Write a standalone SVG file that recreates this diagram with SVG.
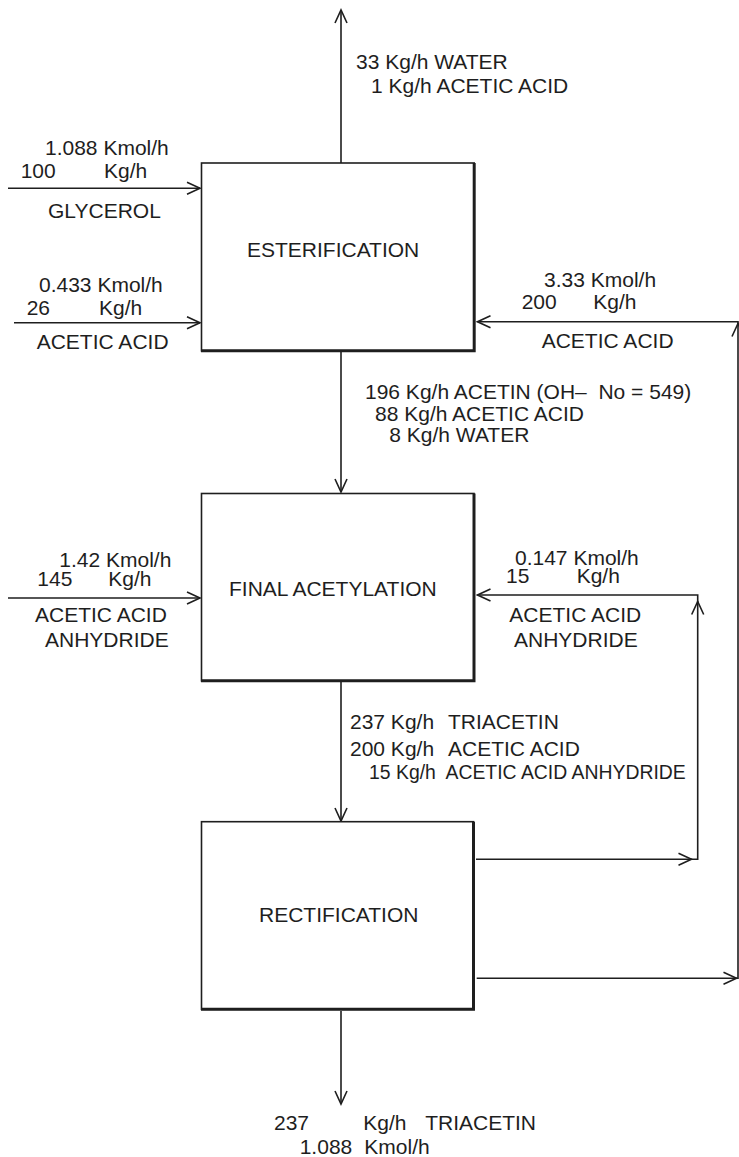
<svg xmlns="http://www.w3.org/2000/svg" width="739" height="1157" viewBox="0 0 739 1157">
<style>
text{font-family:"Liberation Sans",Arial,sans-serif;font-size:21px;fill:#1e1e1e}
.box{fill:#fff;stroke:#1e1e1e;stroke-width:1.6}
.shadow{fill:none;stroke:#1e1e1e;stroke-width:3}
.ln{fill:none;stroke:#1e1e1e;stroke-width:1.6}
.arr{marker-end:url(#ah)}
.sm{font-size:19.4px}
</style>
<defs>
<marker id="ah" viewBox="-14 -8 16 16" markerWidth="16" markerHeight="16" refX="0" refY="0" orient="auto" markerUnits="userSpaceOnUse">
<path d="M-13,-6 L0,0 L-13,6" fill="none" stroke="#1e1e1e" stroke-width="1.6"/>
</marker>
</defs>
<rect width="739" height="1157" fill="#fff"/>
<g id="connectors">
<path class="ln arr" d="M341,163 V10"/>
<path class="ln arr" d="M8,188.3 H200"/>
<path class="ln arr" d="M14,322.7 H200"/>
<path class="ln arr" d="M341,352 V492"/>
<path class="ln arr" d="M8,598 H200"/>
<path class="ln arr" d="M341,682 V821"/>
<path class="ln arr" d="M341,1011 V1104"/>
<path class="ln arr" d="M476,859.3 H691.5"/>
<path class="ln arr" d="M691,859.3 H697.7 V601.5"/>
<path class="ln arr" d="M697.7,602 V595 H477.5"/>
<path class="ln arr" d="M476.7,978.3 H736.5"/>
<path class="ln arr" d="M736,978.3 H738 V323.5"/>
<path class="ln arr" d="M738,324 V321.7 H477.5"/>
</g>
<g id="esterification">
<rect class="box" x="201.5" y="163" width="272.7" height="187.8"/>
<path class="shadow" d="M474.2,163 V350.8 H201"/>
<text x="247" y="257.3">ESTERIFICATION</text>
</g>
<g id="final-acetylation">
<rect class="box" x="201.5" y="493.5" width="272.5" height="187.3"/>
<path class="shadow" d="M474,493.5 V680.8 H201"/>
<text x="229" y="595.7">FINAL ACETYLATION</text>
</g>
<g id="rectification">
<rect class="box" x="201.5" y="821.7" width="272" height="187.6"/>
<path class="shadow" d="M473.5,821.7 V1009.3 H201"/>
<text x="259" y="922.3">RECTIFICATION</text>
</g>
<g id="labels">
<text x="356" y="69.3">33 Kg/h WATER</text>
<text x="371" y="93">1 Kg/h ACETIC ACID</text>
<text x="45" y="155">1.088 Kmol/h</text>
<text x="20.7" y="178.3">100</text>
<text x="104" y="178.3">Kg/h</text>
<text x="48" y="218">GLYCEROL</text>
<text x="39" y="291.7">0.433 Kmol/h</text>
<text x="26.7" y="315">26</text>
<text x="99" y="315">Kg/h</text>
<text x="36.7" y="349.3">ACETIC ACID</text>
<text x="544" y="286.7">3.33 Kmol/h</text>
<text x="521.7" y="309.3">200</text>
<text x="593.3" y="309.3">Kg/h</text>
<text x="541.7" y="347.7">ACETIC ACID</text>
<text x="365" y="399.3">196 Kg/h ACETIN (OH–&#160; No = 549)</text>
<text x="375" y="421">88 Kg/h ACETIC ACID</text>
<text x="389.3" y="441.7">8 Kg/h WATER</text>
<text x="59.3" y="566.7">1.42 Kmol/h</text>
<text x="37.3" y="586">145</text>
<text x="108.3" y="586">Kg/h</text>
<text x="35" y="621.7">ACETIC ACID</text>
<text x="45" y="647.3">ANHYDRIDE</text>
<text x="515" y="565">0.147 Kmol/h</text>
<text x="506" y="583.3">15</text>
<text x="576.7" y="583.3">Kg/h</text>
<text x="509.3" y="621.7">ACETIC ACID</text>
<text x="514" y="647.3">ANHYDRIDE</text>
<text x="350" y="729">237 Kg/h</text>
<text x="448" y="729">TRIACETIN</text>
<text x="350" y="756">200 Kg/h</text>
<text x="448" y="756">ACETIC ACID</text>
<text class="sm" x="369" y="779.3">15 Kg/h</text>
<text class="sm" x="445.5" y="779.3">ACETIC ACID ANHYDRIDE</text>
<text x="274" y="1130">237</text>
<text x="363.3" y="1130">Kg/h</text>
<text x="425.2" y="1130">TRIACETIN</text>
<text x="299.7" y="1154.3">1.088</text>
<text x="364.3" y="1154.3">Kmol/h</text>
</g>
</svg>
